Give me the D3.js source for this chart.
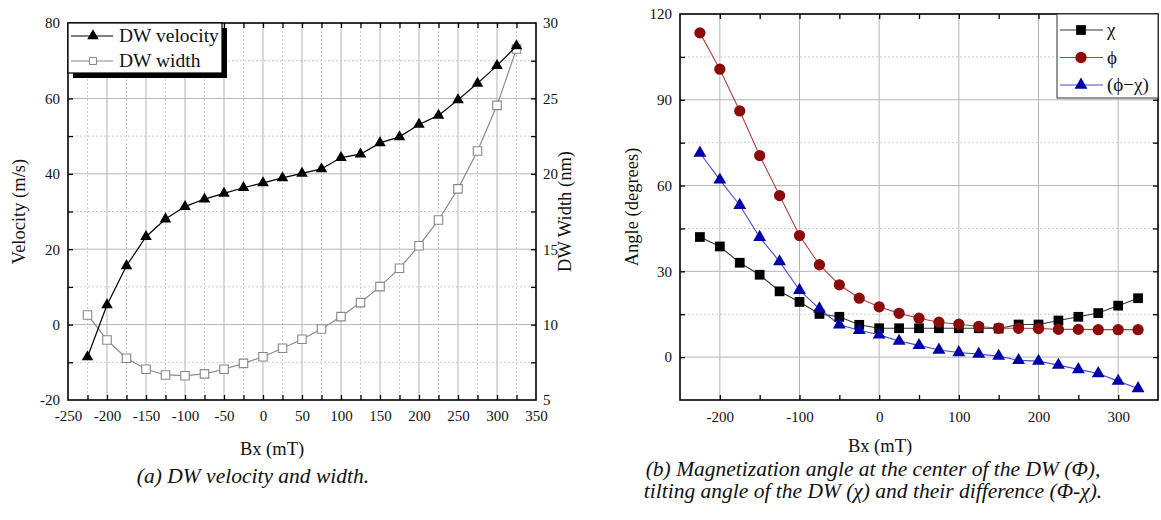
<!DOCTYPE html>
<html><head><meta charset="utf-8">
<script src="https://cdn.jsdelivr.net/npm/d3@7"></script>
<style>
body{margin:0;background:#fff;}
</style></head>
<body><svg id="c" width="1161" height="520"></svg>
<script>
// ---- data ----
const bx = [-225,-200,-175,-150,-125,-100,-75,-50,-25,0,25,50,75,100,125,150,175,200,225,250,275,300,325];
const dwVelocity = [-8.6,5.2,15.6,23.3,28.0,31.3,33.3,34.8,36.3,37.6,38.9,40.1,41.3,44.3,45.2,48.2,49.8,53.1,55.5,59.6,64.0,68.7,73.9];
const dwWidth = [10.64,8.98,7.77,7.04,6.66,6.61,6.73,7.04,7.43,7.87,8.43,9.03,9.71,10.53,11.46,12.52,13.74,15.23,16.94,19.0,21.51,24.54,28.28];
const chi = [42.0,38.7,33.0,28.8,23.0,19.3,15.1,14.1,11.3,10.1,10.1,10.1,10.1,10.1,10.1,10.0,11.4,11.4,12.8,14.1,15.4,18.0,20.6];
const phi = [113.4,100.7,86.1,70.5,56.5,42.5,32.3,25.3,20.6,17.6,15.3,13.6,12.2,11.5,10.7,10.1,10.1,10.0,9.7,9.7,9.6,9.6,9.6];
const phiMinusChi = [71.4,62.0,53.1,41.9,33.4,23.4,16.9,11.3,9.4,7.8,5.6,4.1,2.5,1.6,1.05,0.35,-1.15,-1.4,-2.8,-4.3,-5.7,-8.4,-11.0];
const xTicksA = [-250,-200,-150,-100,-50,0,50,100,150,200,250,300,350];
const yTicksA = [-20,0,20,40,60,80];
const y2TicksA = [5,10,15,20,25,30];
const xTicksB = [-200,-100,0,100,200,300];
const yTicksB = [0,30,60,90,120];

const FONT = '"Liberation Serif", "Times New Roman", Times, "DejaVu Serif", serif';
const fmt = d => String(d);   // hyphen-minus like the reference
const svg = d3.select("#c");

// ================= Chart (a) =================
const A = {l:68, r:536, t:23, b:400};
const xa = d3.scaleLinear().domain([-250,350]).range([A.l,A.r]);
const ya = d3.scaleLinear().domain([-20,80]).range([A.b,A.t]);
const ya2 = d3.scaleLinear().domain([5,30]).range([A.b,A.t]);
const ga = svg.append("g");

ga.selectAll(".mgx").data(d3.range(-225,350,50)).enter().append("line")
  .attr("x1",d=>xa(d)).attr("x2",d=>xa(d)).attr("y1",A.t).attr("y2",A.b)
  .attr("stroke","#ccc").attr("stroke-dasharray","2,2");
ga.selectAll(".mgy").data([-10,10,30,50,70]).enter().append("line")
  .attr("x1",A.l).attr("x2",A.r).attr("y1",d=>ya(d)).attr("y2",d=>ya(d))
  .attr("stroke","#ccc").attr("stroke-dasharray","2,2");
ga.selectAll(".gx").data(xTicksA.slice(1,-1)).enter().append("line")
  .attr("x1",d=>xa(d)).attr("x2",d=>xa(d)).attr("y1",A.t).attr("y2",A.b)
  .attr("stroke","#b5b5b5");
ga.selectAll(".gy").data(yTicksA.slice(1,-1)).enter().append("line")
  .attr("x1",A.l).attr("x2",A.r).attr("y1",d=>ya(d)).attr("y2",d=>ya(d))
  .attr("stroke","#b5b5b5");

function styleAxis(g){ g.attr("font-family",null); g.select(".domain").remove();
  g.selectAll(".tick line").attr("stroke","#000").attr("stroke-width",1.3);
  g.selectAll("text").style("font-size","15px"); }
ga.append("g").attr("transform",`translate(0,${A.b})`)
  .call(d3.axisBottom(xa).tickValues(xTicksA).tickSize(0).tickPadding(10).tickFormat(fmt)).call(styleAxis);
ga.append("g").attr("transform",`translate(0,${A.b})`)
  .call(d3.axisTop(xa).tickValues(d3.range(-225,350,25)).tickSize(5).tickFormat("")).call(styleAxis);
ga.append("g").attr("transform",`translate(0,${A.t})`)
  .call(d3.axisBottom(xa).tickValues(d3.range(-225,350,25)).tickSize(5).tickFormat("")).call(styleAxis);
ga.append("g").attr("transform",`translate(${A.l},0)`)
  .call(d3.axisLeft(ya).tickValues(yTicksA).tickSize(0).tickPadding(8).tickFormat(fmt)).call(styleAxis);
ga.append("g").attr("transform",`translate(${A.l},0)`)
  .call(d3.axisRight(ya).tickValues(d3.range(-10,80,10)).tickSize(5).tickFormat("")).call(styleAxis);
ga.append("g").attr("transform",`translate(${A.r},0)`)
  .call(d3.axisRight(ya2).tickValues(y2TicksA).tickSize(0).tickPadding(7).tickFormat(fmt)).call(styleAxis);
ga.append("g").attr("transform",`translate(${A.r},0)`)
  .call(d3.axisLeft(ya2).tickValues(d3.range(7.5,30,2.5)).tickSize(5).tickFormat("")).call(styleAxis);
ga.append("rect").attr("x",A.l).attr("y",A.t).attr("width",A.r-A.l).attr("height",A.b-A.t)
  .attr("fill","none").attr("stroke","#000").attr("stroke-width",1.6);

const wLine = d3.line().x((d,i)=>xa(bx[i])).y(d=>ya2(d));
ga.append("path").attr("d",wLine(dwWidth)).attr("fill","none").attr("stroke","#8a8a8a").attr("stroke-width",1.2);
ga.selectAll(".wm").data(dwWidth).enter().append("path")
  .attr("d",d3.symbol(d3.symbolSquare,72)())
  .attr("transform",(d,i)=>`translate(${xa(bx[i])},${ya2(d)})`)
  .attr("fill","#fff").attr("stroke","#888").attr("stroke-width",1.1);
const vLine = d3.line().x((d,i)=>xa(bx[i])).y(d=>ya(d));
ga.append("path").attr("d",vLine(dwVelocity)).attr("fill","none").attr("stroke","#000").attr("stroke-width",1.2);
ga.selectAll(".vm").data(dwVelocity).enter().append("path")
  .attr("d",d3.symbol(d3.symbolTriangle,58)())
  .attr("transform",(d,i)=>`translate(${xa(bx[i])},${ya(d)})`)
  .attr("fill","#000");

const lgA = ga.append("g");
lgA.append("rect").attr("x",A.l+5).attr("y",A.t+5).attr("width",154).attr("height",50).attr("fill","#000");
lgA.append("rect").attr("x",A.l).attr("y",A.t).attr("width",154).attr("height",50).attr("fill","#fff").attr("stroke","#000").attr("stroke-width",1.2);
lgA.append("line").attr("x1",A.l+3).attr("x2",A.l+45).attr("y1",A.t+13).attr("y2",A.t+13).attr("stroke","#000").attr("stroke-width",1.2);
lgA.append("path").attr("d",d3.symbol(d3.symbolTriangle,58)()).attr("transform",`translate(${A.l+25},${A.t+13})`).attr("fill","#000");
lgA.append("text").attr("x",A.l+51).attr("y",A.t+19).style("font-size","19.5px").text("DW velocity");
lgA.append("line").attr("x1",A.l+3).attr("x2",A.l+45).attr("y1",A.t+38).attr("y2",A.t+38).attr("stroke","#888").attr("stroke-width",1.2);
lgA.append("path").attr("d",d3.symbol(d3.symbolSquare,50)()).attr("transform",`translate(${A.l+25},${A.t+38})`).attr("fill","#fff").attr("stroke","#888");
lgA.append("text").attr("x",A.l+51).attr("y",A.t+44).style("font-size","19.5px").text("DW width");

ga.append("text").attr("transform",`translate(25,${(A.t+A.b)/2}) rotate(-90)`).attr("text-anchor","middle").style("font-size","18.5px").text("Velocity (m/s)");
ga.append("text").attr("transform",`translate(571,${(A.t+A.b)/2}) rotate(-90)`).attr("text-anchor","middle").style("font-size","18.5px").text("DW Width (nm)");
ga.append("text").attr("x",272).attr("y",455).attr("text-anchor","middle").style("font-size","18.5px").text("Bx (mT)");
ga.append("text").attr("x",253).attr("y",483).attr("text-anchor","middle").style("font-size","21.5px").style("font-style","italic").text("(a) DW velocity and width.");

// ================= Chart (b) =================
const B = {l:680, r:1158, t:14, b:400};
const xb = d3.scaleLinear().domain([-250,350]).range([B.l,B.r]);
const yb = d3.scaleLinear().domain([-15,120]).range([B.b,B.t]);
const gb = svg.append("g");
gb.selectAll(".mgy").data([15,45,75,105]).enter().append("line")
  .attr("x1",B.l).attr("x2",B.r).attr("y1",d=>yb(d)).attr("y2",d=>yb(d))
  .attr("stroke","#ccc").attr("stroke-dasharray","2,2");
gb.selectAll(".gx").data(xTicksB).enter().append("line")
  .attr("x1",d=>xb(d)).attr("x2",d=>xb(d)).attr("y1",B.t).attr("y2",B.b).attr("stroke","#b5b5b5");
gb.selectAll(".gy").data([0,30,60,90]).enter().append("line")
  .attr("x1",B.l).attr("x2",B.r).attr("y1",d=>yb(d)).attr("y2",d=>yb(d)).attr("stroke","#b5b5b5");

gb.append("g").attr("transform",`translate(0,${B.b})`)
  .call(d3.axisBottom(xb).tickValues(xTicksB).tickSize(0).tickPadding(11).tickFormat(fmt)).call(styleAxis);
gb.append("g").attr("transform",`translate(0,${B.b})`)
  .call(d3.axisTop(xb).tickValues(d3.range(-200,350,50)).tickSize(5).tickFormat("")).call(styleAxis);
gb.append("g").attr("transform",`translate(0,${B.t})`)
  .call(d3.axisBottom(xb).tickValues(d3.range(-200,350,50)).tickSize(5).tickFormat("")).call(styleAxis);
gb.append("g").attr("transform",`translate(${B.l},0)`)
  .call(d3.axisLeft(yb).tickValues(yTicksB).tickSize(0).tickPadding(8).tickFormat(fmt)).call(styleAxis);
gb.append("g").attr("transform",`translate(${B.l},0)`)
  .call(d3.axisRight(yb).tickValues(d3.range(0,120,15)).tickSize(5).tickFormat("")).call(styleAxis);
gb.append("g").attr("transform",`translate(${B.r},0)`)
  .call(d3.axisLeft(yb).tickValues(d3.range(0,120,15)).tickSize(5).tickFormat("")).call(styleAxis);
gb.append("rect").attr("x",B.l).attr("y",B.t).attr("width",B.r-B.l).attr("height",B.b-B.t)
  .attr("fill","none").attr("stroke","#000").attr("stroke-width",1.6);

const seriesB = [
  {vals:chi, line:"#333", fill:"#000", sym:d3.symbolSquare, size:95},
  {vals:phi, line:"#b04040", fill:"#8b0a0a", sym:d3.symbolCircle, size:100},
  {vals:phiMinusChi, line:"#4a4ad0", fill:"#0000a8", sym:d3.symbolTriangle, size:72}
];
const lineB = d3.line().x((d,i)=>xb(bx[i])).y(d=>yb(d));
seriesB.forEach(s=>{
  gb.append("path").attr("d",lineB(s.vals)).attr("fill","none").attr("stroke",s.line).attr("stroke-width",1.1);
});
seriesB.forEach(s=>{
  gb.append("g").selectAll("path").data(s.vals).enter().append("path")
    .attr("d",d3.symbol(s.sym,s.size)())
    .attr("transform",(d,i)=>`translate(${xb(bx[i])},${yb(d)})`).attr("fill",s.fill);
});

const lgB = gb.append("g");
const lgx = 1057, lgw = B.r-1057;
lgB.append("rect").attr("x",lgx).attr("y",B.t).attr("width",lgw).attr("height",84).attr("fill","#fff").attr("stroke","#333").attr("stroke-width",1);
const labelsB = ["χ","ϕ","(ϕ−χ)"];
seriesB.forEach((s,i)=>{
  const yy = B.t+16+i*27.5;
  lgB.append("line").attr("x1",lgx+3).attr("x2",lgx+46).attr("y1",yy).attr("y2",yy).attr("stroke",s.line).attr("stroke-width",1.1);
  lgB.append("path").attr("d",d3.symbol(s.sym,s.size)()).attr("transform",`translate(${lgx+24},${yy})`).attr("fill",s.fill);
  lgB.append("text").attr("x",lgx+50).attr("y",yy+6).style("font-size","19px").text(labelsB[i]);
});

gb.append("text").attr("transform",`translate(638,${(B.t+B.b)/2}) rotate(-90)`).attr("text-anchor","middle").style("font-size","18.5px").text("Angle (degrees)");
gb.append("text").attr("x",880).attr("y",452).attr("text-anchor","middle").style("font-size","18.5px").text("Bx (mT)");
gb.append("text").attr("x",873).attr("y",476).attr("text-anchor","middle").style("font-size","21.5px").style("font-style","italic").text("(b) Magnetization angle at the center of the DW (Φ),");
gb.append("text").attr("x",873).attr("y",498).attr("text-anchor","middle").style("font-size","21.5px").style("font-style","italic").text("tilting angle of the DW (χ) and their difference (Φ-χ).");

svg.selectAll("text").style("font-family",FONT).attr("fill","#111");
</script></body></html>
